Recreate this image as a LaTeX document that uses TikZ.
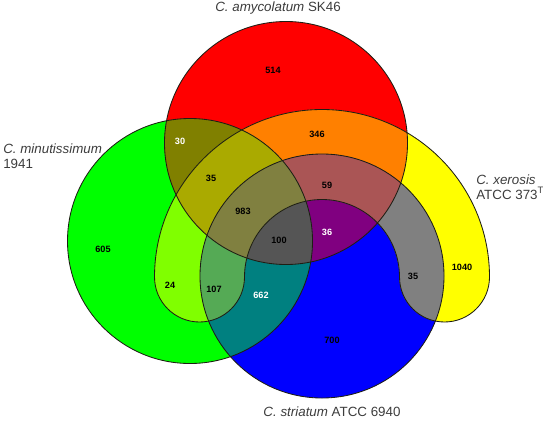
\documentclass[tikz,border=0pt]{standalone}
\usepackage{fontspec}
\setmainfont{Liberation Sans}
\usetikzlibrary{positioning}
% set colours and their mixes
\definecolor{amycclr}{RGB}{255,0,0}
\definecolor{minuclr}{RGB}{0,255,0}
\definecolor{xeroclr}{RGB}{255,255,0}
\definecolor{striclr}{RGB}{0,0,255}
\definecolor{amminclr}{RGB}{128,128,0}
\definecolor{amxeclr}{RGB}{255,128,0}
\definecolor{amstclr}{RGB}{128,0,128}
\definecolor{mixeclr}{RGB}{128,255,0}
\definecolor{mistclr}{RGB}{0,128,128}
\definecolor{xestclr}{RGB}{128,128,128}
\definecolor{ammixeclr}{RGB}{170,170,0}
\definecolor{ammistclr}{RGB}{85,85,85}
\definecolor{amxestclr}{RGB}{170,85,85}
\definecolor{mixestclr}{RGB}{85,170,85}
\definecolor{allclr}{RGB}{128,128,64}
\definecolor{lblclr}{RGB}{60,60,60}
\definecolor{edgeclr}{RGB}{30,30,20}
\newcommand{\amycPath}{(286,143) circle[radius=121.5]}
\newcommand{\minuPath}{(190,241) circle[radius=122.5]}
\newcommand{\striPath}{(322,276) circle[radius=122]}
\newcommand{\xeroPath}{(154.5,277) arc[start angle=180,end angle=360,radius=167.5]
  arc[start angle=0,end angle=180,radius=45]
  arc[start angle=360,end angle=180,radius=77.5]
  arc[start angle=0,end angle=180,radius=45] -- cycle}
\tikzset{
  setedge/.style={draw=edgeclr,line width=0.6pt},
  num/.style={font=\fontsize{6.5}{7}\selectfont\bfseries,text=black,inner sep=0pt},
  wnum/.style={num,text=white},
  lbl/.style={font=\fontsize{9.5}{10.6}\selectfont,text=lblclr,inner sep=0pt,align=left},
}
\begin{document}
\begin{tikzpicture}[x=0.25mm,y=-0.25mm]
  \useasboundingbox (0,0) rectangle (544,420);

  % single sets
  \fill[minuclr] \minuPath;
  \fill[striclr] \striPath;
  \fill[amycclr] \amycPath;
  \fill[xeroclr] \xeroPath;

  % pairs
  \begin{scope}\clip \amycPath; \fill[amminclr] \minuPath; \end{scope}
  \begin{scope}\clip \amycPath; \fill[amxeclr] \xeroPath; \end{scope}
  \begin{scope}\clip \amycPath; \fill[amstclr] \striPath; \end{scope}
  \begin{scope}\clip \minuPath; \fill[mixeclr] \xeroPath; \end{scope}
  \begin{scope}\clip \minuPath; \fill[mistclr] \striPath; \end{scope}
  \begin{scope}\clip \xeroPath; \fill[xestclr] \striPath; \end{scope}

  % triples
  \begin{scope}\clip \amycPath; \clip \minuPath; \fill[ammixeclr] \xeroPath; \end{scope}
  \begin{scope}\clip \amycPath; \clip \minuPath; \fill[ammistclr] \striPath; \end{scope}
  \begin{scope}\clip \amycPath; \clip \xeroPath; \fill[amxestclr] \striPath; \end{scope}
  \begin{scope}\clip \minuPath; \clip \xeroPath; \fill[mixestclr] \striPath; \end{scope}

  % all four
  \begin{scope}\clip \amycPath; \clip \minuPath; \clip \xeroPath; \fill[allclr] \striPath; \end{scope}

  % outlines
  \draw[setedge] \minuPath;
  \draw[setedge] \striPath;
  \draw[setedge] \amycPath;
  \draw[setedge] \xeroPath;

  % counts
  \node[num]  (n514)  at (273,70)  {514};
  \node[wnum] (n30)   at (180,141) {30};
  \node[num]  (n346)  at (317,134) {346};
  \node[num]  (n35a)  at (211,178) {35};
  \node[num]  (n59)   at (327,185) {59};
  \node[num]  (n983)  at (243,211) {983};
  \node[num]  (n605)  at (103,249) {605};
  \node[num]  (n100)  at (279,240) {100};
  \node[wnum] (n36)   at (327,232) {36};
  \node[num]  (n24)   at (170,285) {24};
  \node[num]  (n107)  at (214,289) {107};
  \node[wnum] (n662)  at (261,295) {662};
  \node[num]  (n35b)  at (413,276) {35};
  \node[num]  (n1040) at (462,267) {1040};
  \node[num]  (n700)  at (332,340) {700};

  % set names
  \node[lbl] (amycLbl) at (278,8) {\textit{C. amycolatum} SK46};
  \node[lbl,anchor=west] (minuLbl) at (3,156) {\textit{C. minutissimum}\\1941};
  \node[lbl,anchor=west] (xeroLbl) at (476,187) {\textit{C. xerosis}\\ATCC 373\textsuperscript{T}};
  \node[lbl] (striLbl) at (332,412) {\textit{C. striatum} ATCC 6940};
\end{tikzpicture}
\end{document}
